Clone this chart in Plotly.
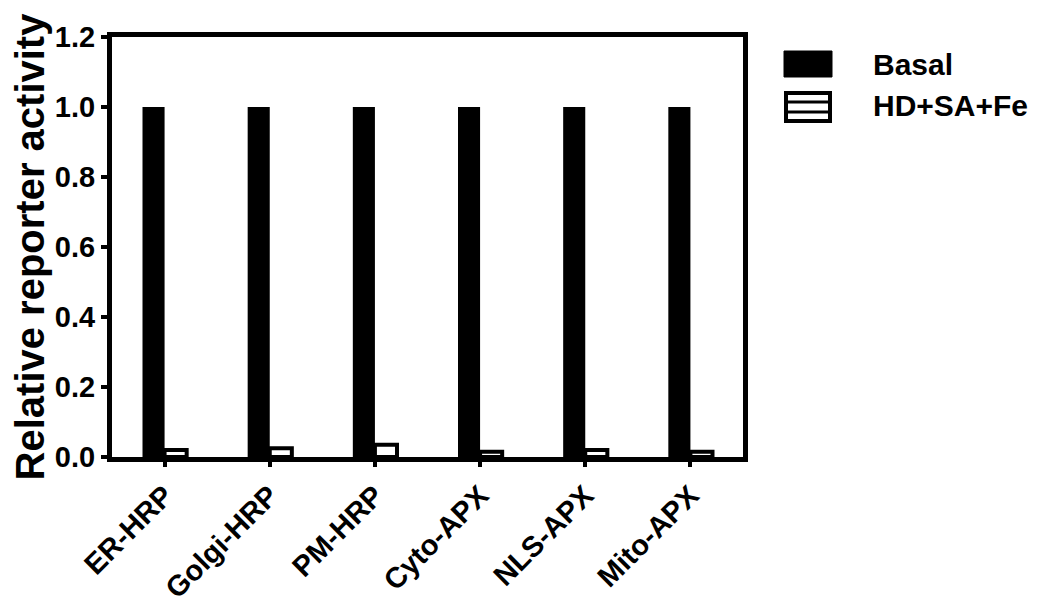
import plotly.graph_objects as go

categories = ["ER-HRP", "Golgi-HRP", "PM-HRP", "Cyto-APX", "NLS-APX", "Mito-APX"]
basal = [1.0, 1.0, 1.0, 1.0, 1.0, 1.0]
treated = [0.02, 0.025, 0.035, 0.015, 0.02, 0.015]
series_names = ["Basal", "HD+SA+Fe"]
y_ticks = [0.0, 0.2, 0.4, 0.6, 0.8, 1.0, 1.2]

OFF = 8  # page body margin
W, H = 1042 - OFF, 608 - OFF
L, R, T, B = 112 - OFF, 743 - OFF, 37 - OFF, 457 - OFF
FONT = "Liberation Sans, Arial, sans-serif"

fig = go.Figure()
fig.add_trace(go.Bar(x=categories, y=basal, name=series_names[0],
                     marker=dict(color="black", line=dict(color="black", width=0))))
fig.add_trace(go.Bar(x=categories, y=treated, name=series_names[1],
                     marker=dict(color="white", line=dict(color="black", width=4))))

axis_common = dict(showline=True, linewidth=5, linecolor="black", mirror=True,
                   showgrid=False, zeroline=False, ticks="outside", tickwidth=4,
                   tickcolor="black", automargin=False)

fig.update_layout(
    width=W, height=H, barmode="group", bargap=0.58, bargroupgap=0,
    paper_bgcolor="white", plot_bgcolor="white", showlegend=False,
    margin=dict(l=L, r=W - R, t=T, b=H - B, autoexpand=False),
    xaxis=dict(**axis_common, tickangle=-45, ticklen=5,
               tickfont=dict(family=FONT, size=29, color="black", weight="bold")),
    yaxis=dict(**axis_common, range=[0, 1.2], tickvals=y_ticks,
               ticktext=[f"{v:.1f}" for v in y_ticks], ticklen=6,
               tickfont=dict(family=FONT, size=29, color="black", weight="bold"),
               title=dict(text="Relative reporter activity", standoff=4,
                          font=dict(family=FONT, size=40, color="black", weight="bold"))),
)

def px(x):
    return (x - OFF - L) / (R - L)

def py(y):
    return (B - (y - OFF)) / (B - T)

# custom legend (reference pixel positions)
fig.add_shape(type="rect", xref="paper", yref="paper", x0=px(784), x1=px(832), y0=py(77), y1=py(51),
              fillcolor="black", line=dict(color="black", width=1))
fig.add_shape(type="rect", xref="paper", yref="paper", x0=px(786), x1=px(830), y0=py(121), y1=py(93),
              fillcolor="white", line=dict(color="black", width=4))
for yy in (102, 112):
    fig.add_shape(type="line", xref="paper", yref="paper", x0=px(786), x1=px(830), y0=py(yy), y1=py(yy),
                  line=dict(color="black", width=3))
for txt, yy in ((series_names[0], 65), (series_names[1], 106)):
    fig.add_annotation(xref="paper", yref="paper", x=px(871), y=py(yy), text=txt, showarrow=False,
                       xanchor="left", yanchor="middle",
                       font=dict(family=FONT, size=30, color="black", weight="bold"))

fig.write_html("out.html")
